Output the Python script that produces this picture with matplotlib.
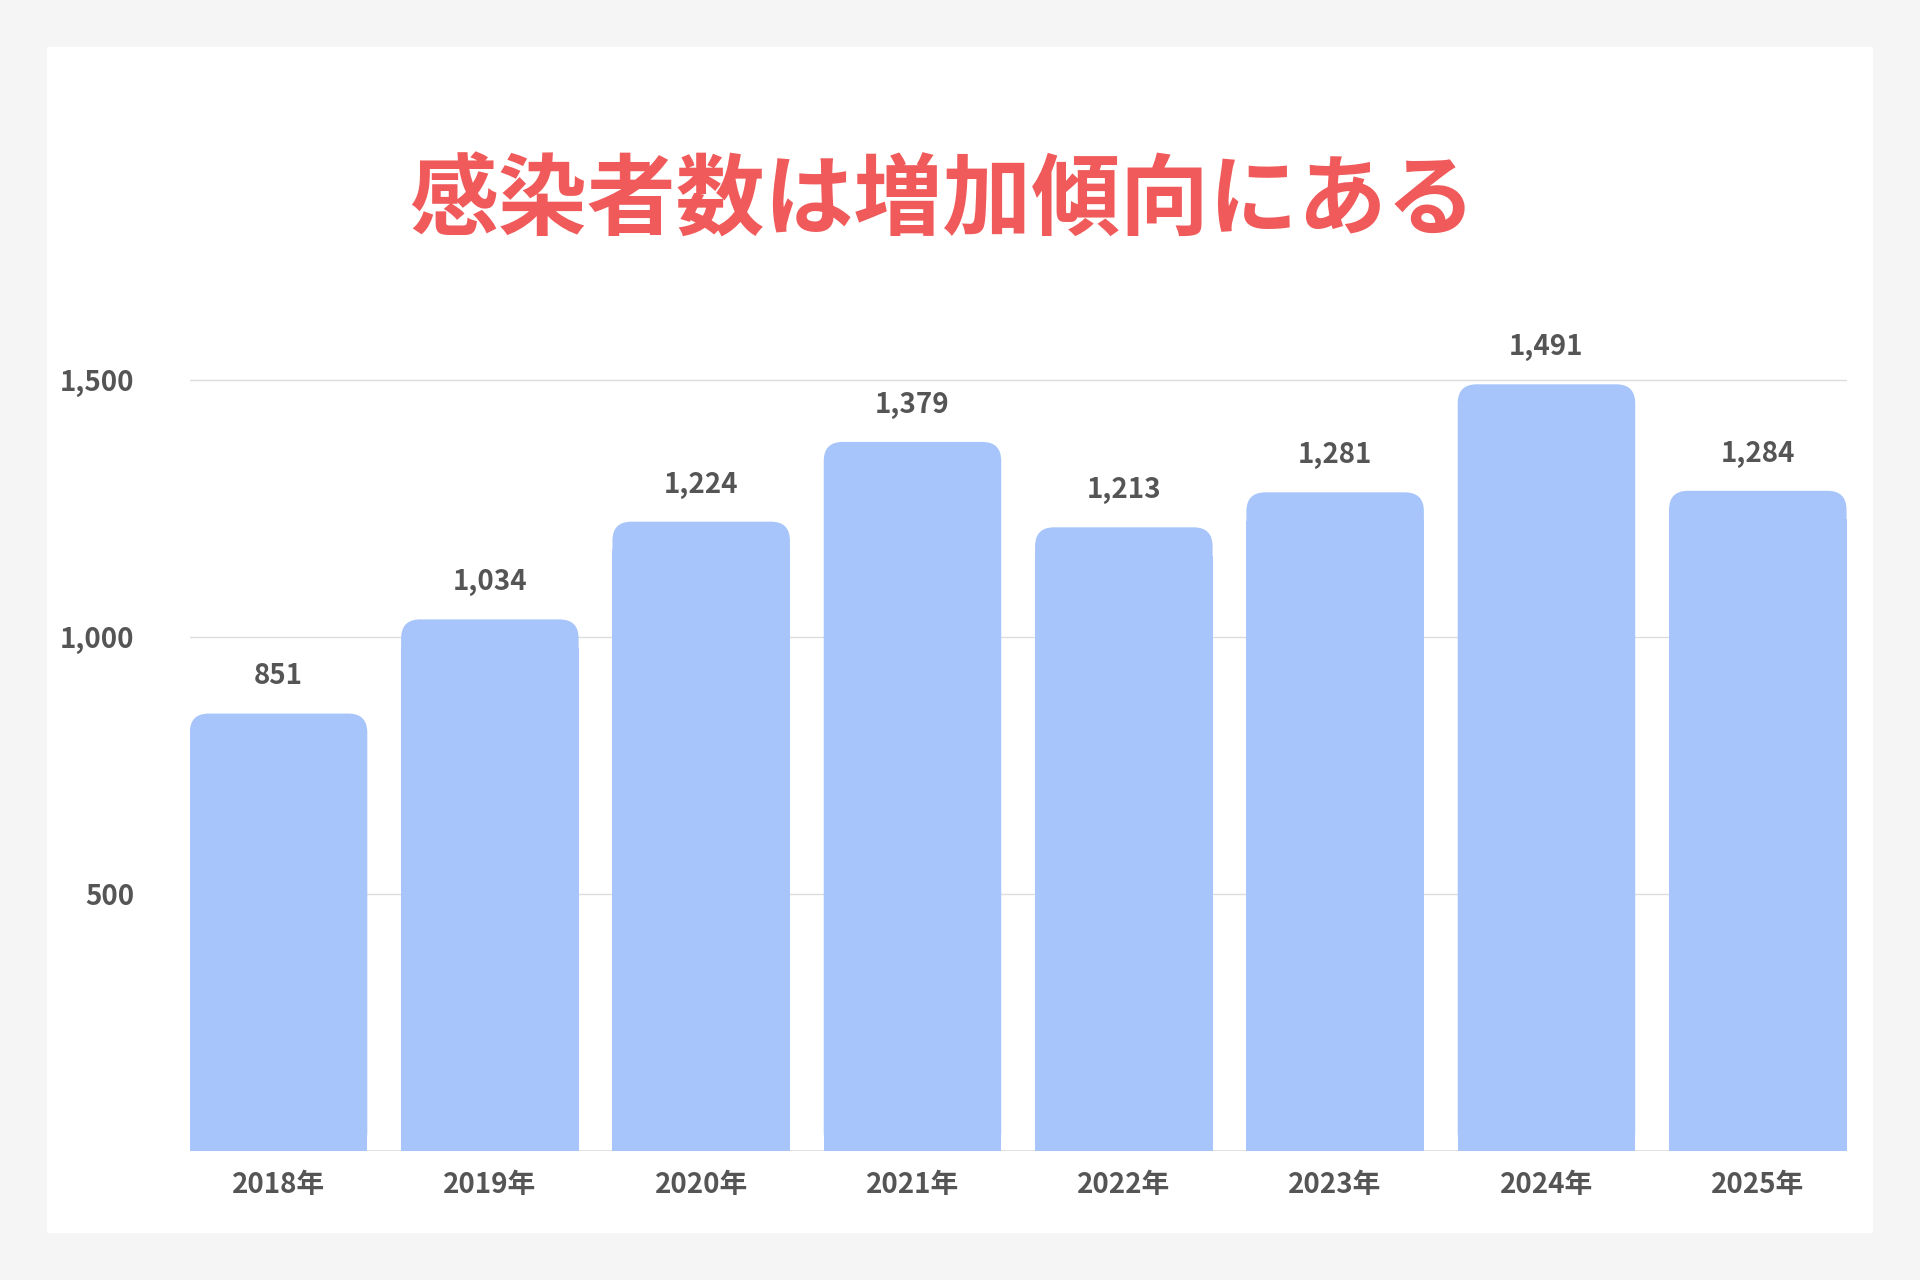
import matplotlib
matplotlib.use("Agg")
import matplotlib.pyplot as plt
from matplotlib.patches import FancyBboxPatch, Rectangle

years = ["2018年", "2019年", "2020年", "2021年", "2022年", "2023年", "2024年", "2025年"]
values = [851, 1034, 1224, 1379, 1213, 1281, 1491, 1284]
yticks = [500, 1000, 1500]
title = "感染者数は増加傾向にある"

plt.rcParams['font.family'] = ['Noto Sans CJK JP', 'DejaVu Sans']
fig = plt.figure(figsize=(19.2, 12.8), dpi=100)
fig.patch.set_facecolor("#f5f5f5")
fig.patches.append(Rectangle((38/1568, 1-1007/1045), (1530-38)/1568, (1007-38)/1045,
                             transform=fig.transFigure, facecolor="white", edgecolor="none", zorder=-5))

ax = fig.add_axes([155/1568, 0.1005, (1508-155)/1568, 0.7275-0.1005])
ax.set_zorder(2)
ax.set_facecolor("none")
w = 0.84
ymax = 1560
ax.set_xlim(-w/2, len(values)-1+w/2)
ax.set_ylim(0, ymax)
color = "#a7c5fa"
rx = 0.09
ry = rx * 410
for i, v in enumerate(values):
    p = FancyBboxPatch((i-w/2, 0), w, v, boxstyle=f"round,pad=0,rounding_size={rx}",
                       mutation_aspect=410, facecolor=color, edgecolor="none", zorder=3)
    ax.add_patch(p)
    ax.add_patch(Rectangle((i-w/2, 0), w, v-ry*1.5, facecolor=color, edgecolor="none", zorder=3))
    ax.text(i, v+45, f"{v:,}", ha="center", va="bottom", fontsize=20, fontweight="bold", color="#555555", zorder=4)

ax.set_yticks(yticks)
ax.set_yticklabels([f"{t:,}" for t in yticks], fontsize=20, fontweight="bold", color="#555555")
ax.set_xticks(range(len(years)))
ax.set_xticklabels(years, fontsize=20, fontweight="bold", color="#555555")
ax.tick_params(length=0, pad=14)
ax.tick_params(axis="y", pad=40)
for t in yticks:
    ax.axhline(t, color="#dddddd", lw=1, zorder=1)
ax.axhline(0, color="#dddddd", lw=1.2, zorder=1)
for s in ax.spines.values():
    s.set_visible(False)

fig.text(770/1568, 1-165/1045, title, ha="center", va="center", fontsize=64,
         fontweight="bold", color="#f05a5a", zorder=3)
fig.savefig("out.png", dpi=100, facecolor=fig.get_facecolor())
